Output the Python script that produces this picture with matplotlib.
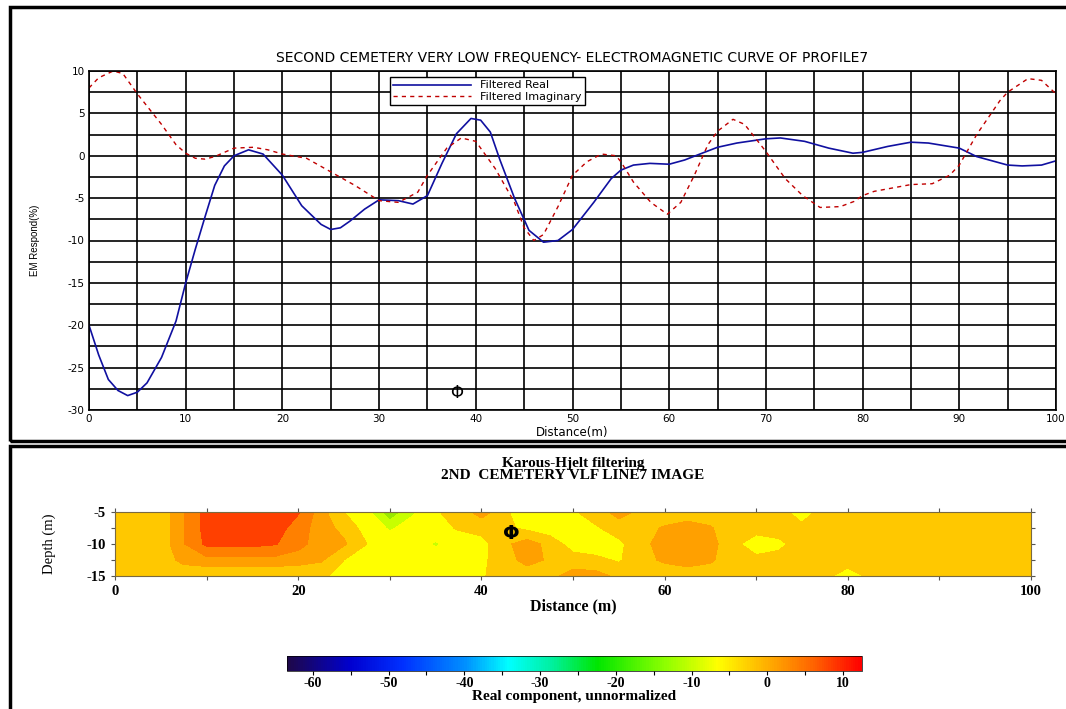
import numpy as np
import matplotlib.pyplot as plt
from matplotlib.colors import LinearSegmentedColormap, Normalize
from matplotlib.patches import Rectangle
import matplotlib.cm as cm

plt.rcParams['axes.unicode_minus'] = False

# VLF-EM curves of profile 7
real_x = [0, 1, 2, 3, 4, 5, 6, 7.5, 9, 10, 11, 12, 13, 14, 15, 16.5, 18, 20, 22, 24, 25, 26, 27,
          28.5, 30, 32, 33.5, 35, 36.5, 38, 39.5, 40.5, 41.5, 42.5, 44, 45.5, 47, 48.5, 50, 52.2,
          54, 55, 56.3, 58, 60, 61.6, 63.4, 65, 67, 70, 71.5, 74, 76.5, 79, 80, 82.6, 85, 86.8,
          90, 91.8, 95, 96.5, 98.5, 100]
real_y = [-20, -23.5, -26.4, -27.7, -28.3, -27.9, -26.8, -23.8, -19.5, -15, -11, -7.2, -3.5, -1.2,
          0, 0.7, 0.2, -2.3, -5.9, -8.1, -8.7, -8.5, -7.7, -6.3, -5.2, -5.3, -5.7, -4.7, -0.9, 2.6,
          4.4, 4.2, 2.8, -0.5, -5, -8.8, -10.2, -10.0, -8.7, -5.5, -2.7, -1.7, -1.1, -0.9, -1.0,
          -0.5, 0.3, 1.0, 1.5, 2.0, 2.1, 1.7, 0.9, 0.3, 0.4, 1.1, 1.6, 1.5, 0.9, -0.1, -1.1, -1.2,
          -1.1, -0.6]

imag_x = [0, 1, 2.5, 3.5, 5, 7.5, 9, 10, 11, 12, 13, 15, 17, 18.5, 20, 22.5, 25, 27.5, 30, 32, 34,
          35, 37, 38.5, 40, 42, 44, 45, 46, 47, 48.5, 50, 51.5, 53, 54.5, 55, 56.3, 58.1, 59.8,
          61.2, 62.6, 64, 65, 66.6, 67.8, 70, 72, 73.8, 75.6, 77.7, 79.1, 80, 81.2, 85, 87.2, 89,
          90, 91.8, 94.2, 95, 97.1, 98.5, 100]
imag_y = [8.0, 9.2, 10.0, 9.7, 7.3, 3.7, 1.3, 0.3, -0.3, -0.4, -0.1, 0.9, 1.0, 0.7, 0.2, -0.3, -1.9,
          -3.5, -5.3, -5.5, -4.3, -2.3, 0.9, 2.1, 1.7, -1.5, -5.5, -8.5, -10, -9.3, -6.0, -2.3,
          -0.7, 0.2, 0, -0.7, -3.1, -5.5, -6.9, -5.5, -2.3, 1.3, 2.9, 4.3, 3.7, 0.5, -2.7, -4.7,
          -6.1, -6.0, -5.4, -4.7, -4.2, -3.4, -3.3, -2.3, -1.1, 2.5, 6.5, 7.5, 9.1, 8.9, 7.3]

# Karous-Hjelt section (real component), rows = depth, columns = distance
kh_dist = np.arange(0, 100.1, 2.5)
kh_depth = [-5, -7.5, -10, -12.5, -15]
kh_row_5 = [-2, -2, -1.9, 2.8, 7.2, 10, 10, 10, 6.3, 1.4, -4, -9, -20, -12, -4.5, -2, 1.5, -2, -11,
            -6, -4.5, -2, 1.5, -1, -2, -2, -2, -2, -2, -2.5, -6, -2, -2, -2, -2, -2, -2, -2, -2,
            -2, -2]
kh_row_7 = [-2, -2, -1.9, 2.8, 7.2, 10, 10, 7.5, 4.5, 1.5, -1, -6, -12, -8, -6, -3.5, -2.5, -3, -5,
            -6.5, -6, -4.5, -2, -1, 0.3, 1.5, 0.3, -2, -2.5, -2, -3, -2, -2, -2, -2, -2, -2, -2,
            -2, -2, -2]
kh_row_10 = [-2, -2, -1.9, 2.8, 6.6, 6.8, 6.8, 6.2, 4, 1.5, 0.5, -4, -7, -7, -12, -7, -5.5, -1, 2,
             -1.5, -6, -6.5, -5, -1, 1.5, 2.5, 1.5, -3, -6, -5, -2, -2, -2, -2, -2, -2, -2, -2, -2,
             -2, -2]
kh_row_12 = [-2, -2, -1.9, 1.0, 2, 2, 2, 2, 1.5, 0.5, -4, -6, -7, -7, -6.5, -6, -5, -1.5, 1.2, -0.5,
             -2, -3, -4.5, -1, 0.5, 1.5, 0.5, -2, -3, -2.5, -2, -2, -2, -2, -2, -2, -2, -2, -2, -2,
             -2]
kh_row_15 = [-2, -2, -2, -2.5, -3, -3, -3, -3, -3, -3.5, -5, -6, -6.5, -6.5, -6, -6, -4.5, -2, -2,
             -1, 1.5, 1.5, -1, -2, -2, -2, -2, -2, -2, -2, -2, -3, -6, -3, -2, -2, -2, -2, -2, -2,
             -2]
kh_levels = [-25, -16, -11, -4, 0, 3, 6, 20]
kh_colors = ['#99e800', '#c8ff00', '#ffff00', '#ffc800', '#ffa000', '#ff8000', '#ff4000']

cbar_ticks = [-60, -50, -40, -30, -20, -10, 0, 10]

fig = plt.figure(figsize=(10.66, 7.09), dpi=100)

# panel frames
fig.add_artist(Rectangle((0.0094, 1 - 441 / 709), 1.0, 434 / 709, transform=fig.transFigure,
                         fill=False, lw=2.5, ec='black'))
fig.add_artist(Rectangle((0.0094, -0.01), 1.0, (709 - 446) / 709 + 0.01, transform=fig.transFigure,
                         fill=False, lw=2.5, ec='black'))

# ---- top: EM curves
ax = fig.add_axes([89 / 1066, 1 - 410 / 709, (1056 - 89) / 1066, (410 - 71) / 709])
ax.plot(real_x, real_y, '-', color='#1010a0', lw=1.2, label='Filtered Real')
ax.plot(imag_x, imag_y, '--', color='#c00000', lw=1.0, dashes=(3, 3), label='Filtered Imaginary')
ax.set_xlim(0, 100)
ax.set_ylim(-30, 10)
ax.set_xticks(np.arange(0, 101, 5), minor=True)
ax.set_yticks(np.arange(-30, 10.1, 2.5), minor=True)
ax.set_xticks(np.arange(0, 101, 10))
ax.set_yticks(np.arange(-30, 11, 5))
ax.grid(True, which='both', color='black', lw=1.2)
ax.tick_params(which='both', length=0, labelsize=7.5, pad=3)
for lab in ax.get_xticklabels() + ax.get_yticklabels():
    lab.set_family('DejaVu Sans')
for s in ax.spines.values():
    s.set_linewidth(1.2)
ax.set_title('SECOND CEMETERY VERY LOW FREQUENCY- ELECTROMAGNETIC CURVE OF PROFILE7',
             fontsize=10, family='DejaVu Sans', pad=7)
ax.set_xlabel('Distance(m)', fontsize=8.5, family='DejaVu Sans', labelpad=1)
ax.set_ylabel('EM Respond(%)', fontsize=7, family='Liberation Sans', labelpad=20)
ax.text(38, -28, 'Φ', fontsize=12, ha='center', va='center')
leg = ax.legend(loc='upper left', bbox_to_anchor=(0.311, 0.982), frameon=True,
                fancybox=False, edgecolor='black', borderpad=0.3, labelspacing=0.1,
                handlelength=7, handletextpad=0.8, borderaxespad=0,
                prop={'family': 'DejaVu Sans', 'size': 8})
leg.get_frame().set_linewidth(1.0)
leg.get_frame().set_alpha(1)

# ---- bottom: Karous-Hjelt image
ax2 = fig.add_axes([115 / 1066, 1 - 576 / 709, (1031 - 115) / 1066, (576 - 512) / 709])
grid = np.array([kh_row_5, kh_row_7, kh_row_10, kh_row_12, kh_row_15])
ax2.contourf(kh_dist, kh_depth, grid, levels=kh_levels, colors=kh_colors)
ax2.set_xlim(0, 100)
ax2.set_ylim(-15, -5)
ax2.set_xticks([0, 20, 40, 60, 80, 100])
ax2.set_xticks(np.arange(0, 101, 10), minor=True)
ax2.set_yticks([-15, -10, -5])
ax2.set_yticks([-12.5, -7.5], minor=True)
ax2.tick_params(which='both', direction='out', top=True, right=True, length=3, width=0.8,
                labelsize=10.5, color='#555555')
for lab in ax2.get_xticklabels() + ax2.get_yticklabels():
    lab.set_family('Liberation Serif')
    lab.set_fontweight('bold')
for s in ax2.spines.values():
    s.set_linewidth(0.8)
    s.set_color('#7a6a40')
ax2.set_xlabel('Distance (m)', fontsize=11.5, family='Liberation Serif', fontweight='bold',
               labelpad=0)
ax2.set_ylabel('Depth (m)', fontsize=10.5, family='Liberation Serif', labelpad=22)
ax2.set_title('Karous-Hjelt filtering\n2ND  CEMETERY VLF LINE7 IMAGE', fontsize=11,
              family='Liberation Serif', fontweight='bold', linespacing=0.85, pad=24)
ax2.text(43.3, -8.4, 'Φ', fontsize=14, fontweight='bold', ha='center', va='center')

# colorbar
cmap = LinearSegmentedColormap.from_list('kh', [
    (0.0, '#1e0848'), (0.11, '#0000d0'), (0.20, '#0030ff'), (0.31, '#0090ff'),
    (0.385, '#00ffff'), (0.46, '#00f0a0'), (0.54, '#00e600'), (0.66, '#90ff00'),
    (0.75, '#ffff00'), (0.835, '#ffb000'), (0.92, '#ff6000'), (1.0, '#ff0000')])
norm = Normalize(vmin=-63.4, vmax=12.5)
cax = fig.add_axes([287 / 1066, 1 - 671 / 709, 575 / 1066, 15 / 709])
sm = cm.ScalarMappable(norm=norm, cmap=cmap)
cb = fig.colorbar(sm, cax=cax, orientation='horizontal')
cb.set_ticks(cbar_ticks)
cb.ax.set_xticks(np.arange(-60, 12, 5), minor=True)
cb.outline.set_linewidth(0.5)
cax.tick_params(which='both', length=3, width=0.8, labelsize=10, pad=1.5)
for lab in cax.get_xticklabels():
    lab.set_family('Liberation Serif')
    lab.set_fontweight('bold')
cb.set_label('Real component, unnormalized', fontsize=11, family='Liberation Serif',
             fontweight='bold', labelpad=0)

fig.savefig('out.png', dpi=100)
